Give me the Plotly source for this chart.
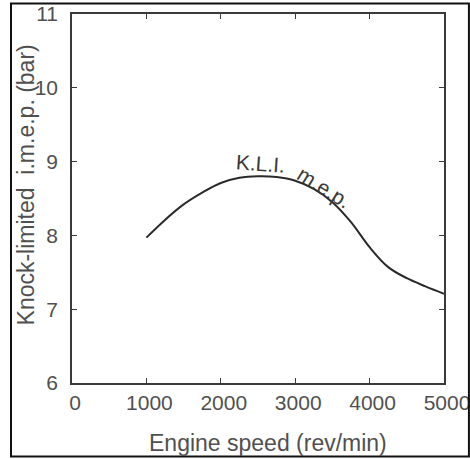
import plotly.graph_objects as go

# Data
speed_rpm = [1000, 1250, 1500, 1750, 2000, 2250, 2500, 2750, 3000,
             3250, 3500, 3750, 4000, 4250, 4500, 4750, 5000]
kli_imep_bar = [7.97, 8.21, 8.42, 8.58, 8.71, 8.78, 8.80, 8.79, 8.74,
                8.63, 8.45, 8.18, 7.84, 7.57, 7.42, 7.31, 7.21]

x_ticks = [0, 1000, 2000, 3000, 4000, 5000]
y_ticks = [6, 7, 8, 9, 10, 11]

x_title = "Engine speed (rev/min)"
y_title = "Knock-limited  i.m.e.p. (bar)"
curve_label_a = "K.L.I."
curve_label_b = "m.e.p."

FONT = "Liberation Sans, Arial, Helvetica, sans-serif"
TEXT_COLOR = "#505050"
LINE_COLOR = "#3a3a3a"

fig = go.Figure()
fig.add_trace(go.Scatter(
    x=speed_rpm, y=kli_imep_bar, mode="lines",
    line=dict(color="#2a2a2a", width=2, shape="spline", smoothing=1.0),
    showlegend=False, hoverinfo="skip",
))

axis_common = dict(
    showline=True, mirror="ticks", linecolor=LINE_COLOR, linewidth=1.5,
    ticks="inside", ticklen=5, tickwidth=1.2, tickcolor=LINE_COLOR,
    showgrid=False, zeroline=False, automargin=False,
    ticklabeloverflow="allow",
    tickfont=dict(family=FONT, size=21, color=TEXT_COLOR),
)

fig.update_xaxes(range=[0, 5000], tickvals=x_ticks,
                 ticktext=[str(v) for v in x_ticks],
                 ticklabelshift=3, ticklabelstandoff=0, **axis_common)
fig.update_yaxes(range=[6, 11], tickvals=y_ticks,
                 ticktext=[str(v) for v in y_ticks],
                 ticklabelstandoff=8, **axis_common)

fig.add_annotation(text=y_title, xref="paper", yref="y", x=-0.1237, y=8.69,
                   textangle=-90, showarrow=False,
                   font=dict(family=FONT, size=23, color=TEXT_COLOR),
                   xanchor="center", yanchor="middle")
fig.add_annotation(text=x_title, xref="x", yref="paper", x=2628, y=-0.1626,
                   showarrow=False,
                   font=dict(family=FONT, size=23, color=TEXT_COLOR),
                   xanchor="center", yanchor="middle")
fig.add_annotation(text=curve_label_a, xref="x", yref="y", x=2527, y=8.98,
                   textangle=4, showarrow=False,
                   font=dict(family=FONT, size=21, color="#3a3a3a"))
fig.add_annotation(text=curve_label_b, xref="x", yref="y", x=3390, y=8.65,
                   textangle=32, showarrow=False,
                   font=dict(family=FONT, size=21, color="#3a3a3a"))

# outer frame around the figure
fig.add_shape(type="rect", xref="paper", yref="paper",
              x0=-0.164, x1=1.067, y0=-0.1992, y1=1.0285,
              line=dict(color="#111111", width=2), layer="above")

fig.update_layout(
    template="none",
    width=470, height=459,
    margin=dict(l=72, r=26, t=14, b=76, autoexpand=False),
    paper_bgcolor="white", plot_bgcolor="white",
    showlegend=False,
)

fig.write_html(
    "out.html",
    config={"displayModeBar": False},
    post_script="document.body.style.margin='0';document.body.style.padding='0';",
)
